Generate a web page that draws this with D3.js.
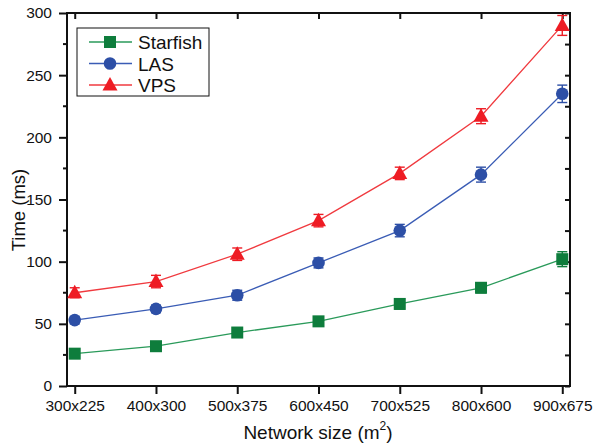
<!DOCTYPE html>
<html>
<head>
<meta charset="utf-8">
<script src="https://cdn.jsdelivr.net/npm/d3@7"></script>
<style>
  body { margin: 0; background: #fff; }
  text { font-family: "Liberation Sans", Arial, sans-serif; fill: #111; }
</style>
</head>
<body>
<svg width="593" height="443"></svg>
<script>
// data
var categories = ["300x225", "400x300", "500x375", "600x450", "700x525", "800x600", "900x675"];
var starfish = [26, 32, 43, 52, 66, 79, 102];
var starfishErr = [2, 2, 3, 3, 4, 4, 6];
var las = [53, 62, 73, 99, 125, 170, 235];
var lasErr = [3, 3, 4, 4, 5, 6, 7];
var vps = [75, 84, 106, 133, 171, 217, 290];
var vpsErr = [4, 5, 5, 5, 5, 6, 8];
var yTicks = [0, 50, 100, 150, 200, 250, 300];

var series = [
  { name: "Starfish", values: starfish, err: starfishErr, color: "#0e7d3c", line: "#2a9a5a", shape: "square" },
  { name: "LAS", values: las, err: lasErr, color: "#2d4fa6", line: "#3a5cb5", shape: "circle" },
  { name: "VPS", values: vps, err: vpsErr, color: "#ee1c24", line: "#f03a3f", shape: "triangle" }
];

var svg = d3.select("svg");
var plotL = 67, plotR = 570, plotT = 13, plotB = 386;

var x = d3.scalePoint().domain(categories).range([plotL, plotR]).padding(0.095);
var y = d3.scaleLinear().domain([0, 300]).range([plotB, plotT]);

var minor = d3.range(25, 300, 50);

// frame
svg.append("rect")
  .attr("x", plotL).attr("y", plotT)
  .attr("width", plotR - plotL).attr("height", plotB - plotT)
  .attr("fill", "none").attr("stroke", "#111").attr("stroke-width", 2);

// left axis
var yAxis = svg.append("g").attr("transform", "translate(" + plotL + ",0)")
  .call(d3.axisLeft(y).tickValues(yTicks).tickSize(8).tickPadding(7));
yAxis.append("g").selectAll("line").data(minor).enter().append("line")
  .attr("x1", 0).attr("x2", -4).attr("y1", y).attr("y2", y);

// right axis, ticks inward
var yRight = svg.append("g").attr("transform", "translate(" + plotR + ",0)")
  .call(d3.axisLeft(y).tickValues(yTicks.concat(minor)).tickSize(5).tickFormat(""));

// bottom axis
var xAxis = svg.append("g").attr("transform", "translate(0," + plotB + ")")
  .call(d3.axisBottom(x).tickSize(8).tickPadding(6));

// top axis, ticks inward
var xTop = svg.append("g").attr("transform", "translate(0," + plotT + ")")
  .call(d3.axisBottom(x).tickSize(6).tickFormat(""));

[yAxis, yRight, xAxis, xTop].forEach(function(g) {
  g.select(".domain").remove();
  g.selectAll("line").attr("stroke", "#111").attr("stroke-width", 2);
  g.selectAll("text").attr("font-size", 15.5).attr("fill", "#111")
    .attr("font-family", "Liberation Sans, Arial, sans-serif");
});

// axis titles
svg.append("text")
  .attr("transform", "translate(25,210) rotate(-90)")
  .attr("text-anchor", "middle").attr("font-size", 18.5)
  .text("Time (ms)");

var xt = svg.append("text")
  .attr("x", 318).attr("y", 439)
  .attr("text-anchor", "middle").attr("font-size", 19);
xt.append("tspan").text("Network size (m");
xt.append("tspan").attr("font-size", 12).attr("dy", -9).text("2");
xt.append("tspan").attr("dy", 9).text(")");

function marker(g, shape, color) {
  if (shape === "square") {
    g.append("rect").attr("x", -6).attr("y", -6).attr("width", 12).attr("height", 12).attr("fill", color);
  } else if (shape === "circle") {
    g.append("circle").attr("r", 6.3).attr("fill", color);
  } else {
    g.append("path").attr("d", "M0,-8L7.5,5.5L-7.5,5.5Z").attr("fill", color);
  }
}

var line = d3.line().x(function(d, i) { return x(categories[i]); }).y(function(d) { return y(d); });

series.forEach(function(s) {
  var g = svg.append("g");
  g.append("path").datum(s.values)
    .attr("d", line).attr("fill", "none")
    .attr("stroke", s.line).attr("stroke-width", 1.3);

  s.values.forEach(function(v, i) {
    var cx = x(categories[i]);
    var e = s.err[i];
    var eb = g.append("g").attr("stroke", s.color).attr("stroke-width", 1.4);
    eb.append("line").attr("x1", cx).attr("x2", cx).attr("y1", y(v - e)).attr("y2", y(v + e));
    eb.append("line").attr("x1", cx - 5).attr("x2", cx + 5).attr("y1", y(v - e)).attr("y2", y(v - e));
    eb.append("line").attr("x1", cx - 5).attr("x2", cx + 5).attr("y1", y(v + e)).attr("y2", y(v + e));
    marker(g.append("g").attr("transform", "translate(" + cx + "," + y(v) + ")"), s.shape, s.color);
  });
});

// legend
var lg = svg.append("g");
lg.append("rect").attr("x", 77).attr("y", 28).attr("width", 132).attr("height", 68)
  .attr("fill", "#fff").attr("stroke", "#111").attr("stroke-width", 1);
series.forEach(function(s, i) {
  var ly = 42 + i * 21.5;
  lg.append("line").attr("x1", 89).attr("x2", 132).attr("y1", ly).attr("y2", ly)
    .attr("stroke", s.line).attr("stroke-width", 1.3);
  marker(lg.append("g").attr("transform", "translate(110," + ly + ")"), s.shape, s.color);
  lg.append("text").attr("x", 138).attr("y", ly + 7).attr("font-size", 19).text(s.name);
});
</script>
</body>
</html>
